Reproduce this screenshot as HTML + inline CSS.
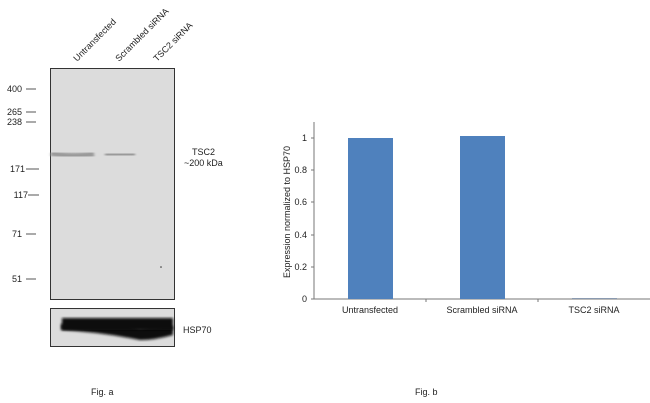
<!DOCTYPE html><html><head><style>
body{margin:0;width:650px;height:403px;background:#fff;font-family:"Liberation Sans",Arial,sans-serif;position:relative;overflow:hidden}
</style></head><body>
<svg width="650" height="403" style="position:absolute;left:0;top:0" font-family="Liberation Sans, Arial, sans-serif" font-size="9" fill="#222">
<defs><filter id="b"><feGaussianBlur stdDeviation="1.3"/></filter></defs>
<rect x="50.5" y="68.5" width="124" height="231" fill="#dcdcdc" stroke="#333"/>
<path d="M51 153 Q70 158 94 154" stroke="#999" stroke-width="6" fill="none" filter="url(#b)"/>
<path d="M105 155 L135 154" stroke="#999" stroke-width="6" fill="none" filter="url(#b)"/>
<circle cx="161" cy="267" r="0.8" fill="#333"/>
<rect x="50.5" y="308.5" width="124" height="38" fill="#dcdcdc" stroke="#333"/>
<path d="M61 324 Q100 322 130 326 L140 328 Q155 326 173 326 L173 335 Q155 340 140 340 Q100 332 61 330 Z" fill="#111" filter="url(#b)"/>
<rect x="62" y="318" width="111" height="12" fill="#111" filter="url(#b)"/>
<g stroke="#555"><line x1="26" y1="89" x2="36" y2="89"/><line x1="26" y1="112" x2="36" y2="112"/><line x1="26" y1="122" x2="36" y2="122"/><line x1="26" y1="169" x2="39" y2="169"/><line x1="28" y1="195" x2="39" y2="195"/><line x1="26" y1="234" x2="36" y2="234"/><line x1="26" y1="279" x2="36" y2="279"/></g>
<g text-anchor="end"><text x="22" y="92">400</text><text x="22" y="115">265</text><text x="22" y="125">238</text><text x="25" y="172">171</text><text x="28" y="198">117</text><text x="22" y="237">71</text><text x="22" y="282">51</text></g>
<text x="77" y="62" transform="rotate(-45 77 62)">Untransfected</text>
<text x="119" y="62" transform="rotate(-45 119 62)">Scrambled siRNA</text>
<text x="157" y="62" transform="rotate(-45 157 62)">TSC2 siRNA</text>
<text x="192" y="155">TSC2</text><text x="184" y="166">~200 kDa</text>
<text x="183" y="333">HSP70</text>
<text x="91" y="395">Fig. a</text><text x="415" y="395">Fig. b</text>
<line x1="314" y1="122" x2="314" y2="299" stroke="#777"/>
<line x1="314" y1="299" x2="650" y2="299" stroke="#777"/>
<g stroke="#777"><line x1="311" y1="138" x2="314" y2="138"/><line x1="311" y1="170" x2="314" y2="170"/><line x1="311" y1="202" x2="314" y2="202"/><line x1="311" y1="235" x2="314" y2="235"/><line x1="311" y1="267" x2="314" y2="267"/><line x1="311" y1="299" x2="314" y2="299"/><line x1="426" y1="299" x2="426" y2="302"/><line x1="538" y1="299" x2="538" y2="302"/></g>
<g text-anchor="end"><text x="307" y="141">1</text><text x="307" y="173">0.8</text><text x="307" y="205">0.6</text><text x="307" y="238">0.4</text><text x="307" y="270">0.2</text><text x="307" y="302">0</text></g>
<rect x="348" y="138" width="45" height="161" fill="#4f81bd"/>
<rect x="460" y="136" width="45" height="163" fill="#4f81bd"/>
<line x1="572" y1="298.5" x2="617" y2="298.5" stroke="#8a9ab0"/>
<g text-anchor="middle"><text x="370" y="313">Untransfected</text><text x="482" y="313">Scrambled siRNA</text><text x="594" y="313">TSC2 siRNA</text></g>
<text x="290" y="212" text-anchor="middle" transform="rotate(-90 290 212)">Expression  normalized to HSP70</text>
</svg>
</body></html>
